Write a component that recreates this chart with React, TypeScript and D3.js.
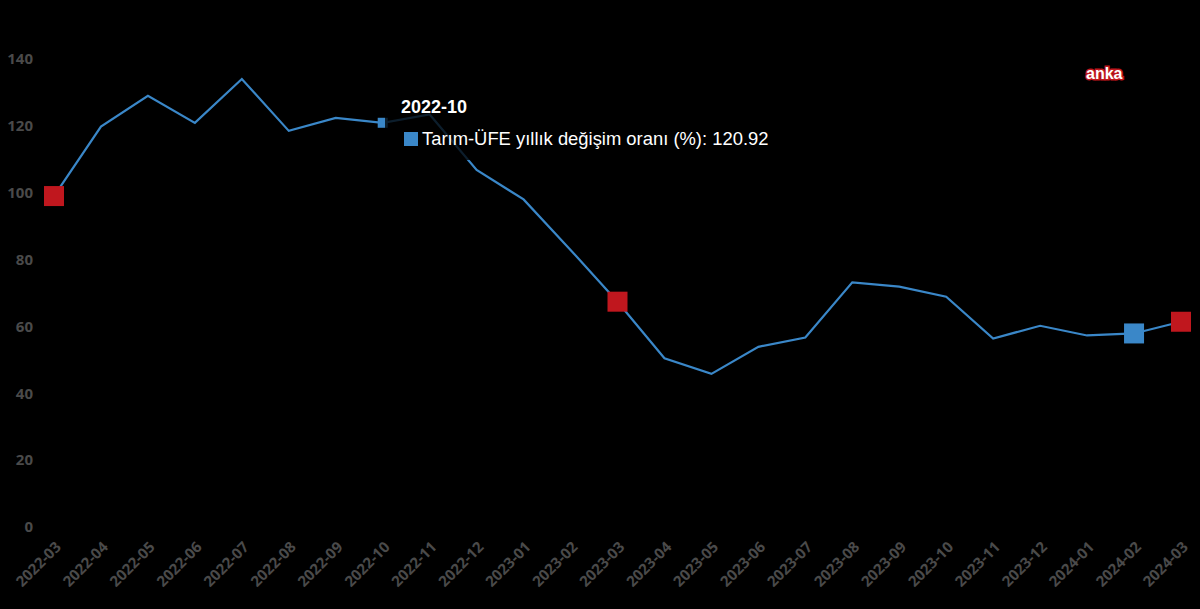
import React, { useEffect } from 'react';
import * as d3 from 'd3';

const months = [
  '2022-03', '2022-04', '2022-05', '2022-06', '2022-07', '2022-08', '2022-09',
  '2022-10', '2022-11', '2022-12', '2023-01', '2023-02', '2023-03', '2023-04',
  '2023-05', '2023-06', '2023-07', '2023-08', '2023-09', '2023-10', '2023-11',
  '2023-12', '2024-01', '2024-02', '2024-03'
];
const values = [
  99.0, 119.8, 129.0, 120.9, 134.0, 118.5, 122.4, 120.92, 123.4, 106.8, 98.0,
  82.9, 67.4, 50.5, 45.8, 53.9, 56.7, 73.2, 71.9, 68.9, 56.4, 60.2, 57.3, 57.9, 61.4
];
const yTicks = [0, 20, 40, 60, 80, 100, 120, 140];
const redMarks = ['2022-03', '2023-03', '2024-03'];
const blueMarks = ['2024-02'];
const hoverMonth = '2022-10';
const seriesName = 'Tarım-ÜFE yıllık değişim oranı (%)';

const W = 1200;
const H = 609;
const BLUE = '#3a87c8';
const RED = '#c0171e';
const GREY = '#4a4a4a';

export default function App() {
  useEffect(() => {
    document.body.style.margin = '0';
    document.body.style.background = '#000';
  }, []);

  const x = d3.scalePoint<string>().domain(months).range([54, 1181]);
  const y = d3.scaleLinear().domain([0, 140]).range([527, 59]);

  const line = d3.line<number>()
    .x((_, i) => x(months[i]) as number)
    .y(d => y(d));

  const val = (m: string) => values[months.indexOf(m)];
  const hx = x(hoverMonth) as number;
  const hy = y(val(hoverMonth));

  const font = 'Arial, "Liberation Sans", sans-serif';
  const axisFont = '"Open Sans", "Noto Sans", sans-serif';

  return (
    <svg width={W} height={H} style={{ display: 'block', background: '#000' }}>
      {yTicks.map(t => (
        <text key={t} x={33} y={y(t)} dy="0.35em" textAnchor="end"
          fontFamily={axisFont} fontWeight="bold" fontSize={15} fill={GREY}>{t}</text>
      ))}
      {months.map(m => (
        <text key={m} transform={`translate(${(x(m) as number) + 8},${548}) rotate(-45)`}
          textAnchor="end" fontFamily={axisFont} fontWeight="bold" fontSize={15} fill={GREY}>{m}</text>
      ))}
      <path d={line(values) || ''} fill="none" stroke={BLUE} strokeWidth={2.2} />
      {redMarks.map(m => (
        <rect key={m} x={(x(m) as number) - 10} y={y(val(m)) - 10} width={20} height={20} fill={RED} />
      ))}
      {blueMarks.map(m => (
        <rect key={m} x={(x(m) as number) - 10} y={y(val(m)) - 10} width={20} height={20} fill={BLUE} />
      ))}
      <rect x={hx - 5} y={hy - 5} width={10} height={10} fill={BLUE} />
      <rect x={385} y={86} width={405} height={74} fill="rgba(0,0,0,0.78)" />
      <text x={401} y={113} fontFamily={font} fontWeight="bold" fontSize={18} fill="#fff">{hoverMonth}</text>
      <rect x={404} y={132} width={14} height={14} fill={BLUE} />
      <text x={422} y={145} fontFamily={font} fontSize={18.4} fill="#fff">
        {`${seriesName}: ${val(hoverMonth).toFixed(2)}`}
      </text>
      <text x={1086} y={79} fontFamily={font} fontWeight="bold" fontSize={16}
        fill="#fff" stroke={RED} strokeWidth={3} paintOrder="stroke">anka</text>
    </svg>
  );
}
